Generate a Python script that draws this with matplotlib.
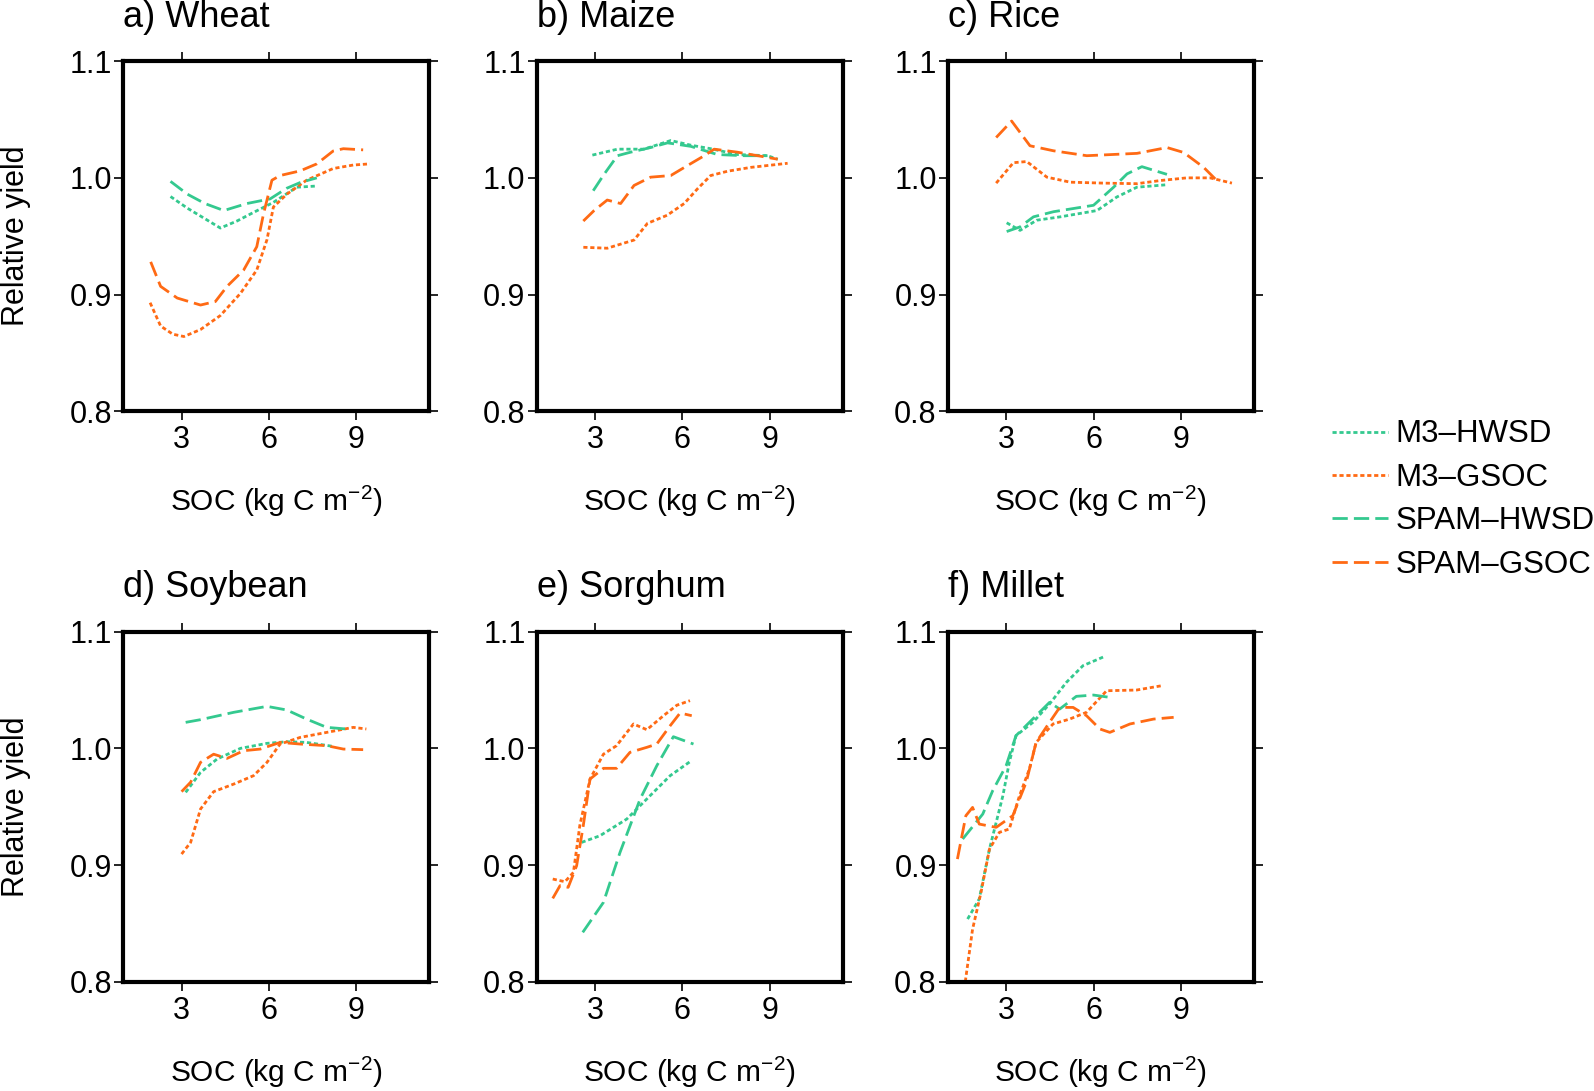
import matplotlib
matplotlib.use("Agg")
import matplotlib.pyplot as plt

plt.rcParams['font.family'] = ['Liberation Sans', 'DejaVu Sans']
plt.rcParams['mathtext.fontset'] = 'custom'
plt.rcParams['mathtext.rm'] = 'Liberation Sans'
plt.rcParams['mathtext.it'] = 'Liberation Sans:italic'

GREEN = '#34c98f'
ORANGE = '#ff6a14'

series_names = ['M3\u2013HWSD', 'M3\u2013GSOC', 'SPAM\u2013HWSD', 'SPAM\u2013GSOC']
panel_titles = ['a) Wheat', 'b) Maize', 'c) Rice', 'd) Soybean', 'e) Sorghum', 'f) Millet']
xticks = [3, 6, 9]
yticks = [0.8, 0.9, 1.0, 1.1]
ytick_labels = ['0.8', '0.9', '1.0', '1.1']

# ---- a) Wheat ----
wheat_m3_hwsd_x = [2.62, 3.2, 3.8, 4.33, 4.9, 5.36, 6.15, 6.95, 7.64]
wheat_m3_hwsd_y = [0.984, 0.974, 0.965, 0.957, 0.963, 0.969, 0.979, 0.992, 0.993]
wheat_m3_gsoc_x = [1.92, 2.28, 2.7, 3.08, 3.65, 4.33, 5.02, 5.58, 5.93, 6.15, 6.61, 7.29, 8.2, 8.89, 9.46]
wheat_m3_gsoc_y = [0.893, 0.873, 0.866, 0.864, 0.870, 0.882, 0.901, 0.921, 0.947, 0.975, 0.986, 0.998, 1.008, 1.011, 1.012]
wheat_spam_hwsd_x = [2.62, 3.2, 3.8, 4.45, 5.24, 6.04, 6.6, 7.07, 7.64]
wheat_spam_hwsd_y = [0.997, 0.986, 0.978, 0.972, 0.978, 0.982, 0.991, 0.996, 1.000]
wheat_spam_gsoc_x = [1.94, 2.28, 2.85, 3.65, 4.16, 4.56, 5.13, 5.58, 5.81, 6.1, 6.38, 7.07, 7.64, 8.2, 8.55, 9.23]
wheat_spam_gsoc_y = [0.928, 0.907, 0.897, 0.891, 0.894, 0.907, 0.921, 0.941, 0.969, 0.998, 1.002, 1.006, 1.012, 1.023, 1.025, 1.024]

# ---- b) Maize ----
maize_m3_hwsd_x = [2.91, 3.77, 4.68, 5.6, 6.29, 6.97, 7.89, 8.92, 9.27]
maize_m3_hwsd_y = [1.0195, 1.0246, 1.0246, 1.032, 1.028, 1.025, 1.020, 1.019, 1.016]
maize_m3_gsoc_x = [2.6, 3.42, 4.34, 4.8, 5.48, 6.06, 6.52, 6.97, 7.55, 8.35, 9.61]
maize_m3_gsoc_y = [0.9405, 0.9397, 0.9467, 0.961, 0.968, 0.978, 0.9907, 1.002, 1.0057, 1.009, 1.0125]
maize_spam_hwsd_x = [2.94, 3.31, 3.77, 4.22, 4.91, 5.49, 6.29, 7.2, 8.12, 8.92]
maize_spam_hwsd_y = [0.989, 1.003, 1.019, 1.022, 1.026, 1.030, 1.027, 1.020, 1.019, 1.019]
maize_spam_gsoc_x = [2.6, 2.97, 3.42, 3.88, 4.34, 4.91, 5.6, 6.17, 6.75, 7.09, 7.89, 8.58, 9.27]
maize_spam_gsoc_y = [0.963, 0.972, 0.981, 0.978, 0.9935, 1.0006, 1.002, 1.0105, 1.019, 1.0246, 1.022, 1.019, 1.016]

# ---- c) Rice ----
rice_m3_hwsd_x = [3.02, 3.48, 4.05, 4.86, 6.12, 6.8, 7.49, 8.46]
rice_m3_hwsd_y = [0.9615, 0.955, 0.9637, 0.9666, 0.972, 0.9836, 0.992, 0.994]
rice_m3_gsoc_x = [2.66, 3.25, 3.71, 4.4, 5.2, 6.34, 7.49, 8.29, 9.2, 10.0, 10.75]
rice_m3_gsoc_y = [0.9955, 1.013, 1.014, 1.0006, 0.9963, 0.9955, 0.995, 0.9977, 1.0, 1.0, 0.9955]
rice_spam_hwsd_x = [3.02, 3.48, 3.94, 4.63, 6.0, 6.69, 7.15, 7.66, 8.52]
rice_spam_hwsd_y = [0.954, 0.958, 0.9666, 0.971, 0.9765, 0.992, 1.0034, 1.0096, 1.003]
rice_spam_gsoc_x = [2.66, 3.19, 3.82, 4.63, 5.77, 7.49, 8.52, 9.09, 9.78, 10.18]
rice_spam_gsoc_y = [1.0346, 1.0487, 1.0275, 1.0232, 1.019, 1.021, 1.026, 1.0218, 1.009, 0.999]

# ---- d) Soybean ----
soy_m3_hwsd_x = [3.14, 3.65, 4.22, 5.02, 5.93, 6.61, 7.29, 8.2]
soy_m3_hwsd_y = [0.9623, 0.9794, 0.9909, 1.0, 1.0043, 1.0057, 1.0051, 1.0017]
soy_m3_gsoc_x = [3.0, 3.31, 3.65, 4.1, 4.79, 5.47, 5.93, 6.38, 7.07, 7.98, 8.89, 9.34]
soy_m3_gsoc_y = [0.9094, 0.9194, 0.948, 0.9629, 0.9694, 0.9766, 0.988, 1.0037, 1.0094, 1.0137, 1.018, 1.0166]
soy_spam_hwsd_x = [3.14, 3.65, 4.79, 5.93, 6.61, 7.29, 7.98, 8.66]
soy_spam_hwsd_y = [1.0223, 1.0246, 1.0309, 1.036, 1.0329, 1.0251, 1.018, 1.0166]
soy_spam_gsoc_x = [3.0, 3.31, 3.65, 4.1, 4.56, 5.13, 5.7, 6.38, 7.07, 7.98, 8.55, 9.23]
soy_spam_gsoc_y = [0.9629, 0.971, 0.988, 0.995, 0.9914, 0.998, 0.9994, 1.0051, 1.0037, 1.0023, 0.9994, 0.9989]

# ---- e) Sorghum ----
sorg_m3_hwsd_x = [2.54, 3.17, 4.09, 4.89, 5.58, 6.26]
sorg_m3_hwsd_y = [0.9194, 0.9251, 0.9394, 0.9594, 0.9766, 0.9886]
sorg_m3_gsoc_x = [1.55, 1.97, 2.26, 2.48, 2.83, 3.29, 3.74, 4.32, 4.78, 5.35, 5.81, 6.26]
sorg_m3_gsoc_y = [0.888, 0.8857, 0.8937, 0.934, 0.9737, 0.995, 1.0023, 1.0209, 1.016, 1.028, 1.037, 1.0409]
sorg_spam_hwsd_x = [2.58, 3.29, 3.86, 4.55, 5.12, 5.69, 6.38]
sorg_spam_hwsd_y = [0.8423, 0.868, 0.9109, 0.9566, 0.9851, 1.01, 1.0037]
sorg_spam_gsoc_x = [1.55, 1.8, 2.08, 2.37, 2.6, 2.83, 3.29, 3.74, 4.2, 4.78, 5.12, 5.58, 5.92, 6.32]
sorg_spam_gsoc_y = [0.8714, 0.8823, 0.8809, 0.8994, 0.934, 0.9737, 0.9829, 0.9829, 0.9966, 1.0009, 1.0037, 1.0194, 1.0303, 1.028]

# ---- f) Millet ----
mil_m3_hwsd_x = [1.68, 2.08, 2.43, 2.89, 3.11, 3.34, 3.92, 4.49, 5.07, 5.64, 6.39]
mil_m3_hwsd_y = [0.8537, 0.871, 0.9137, 0.9594, 0.988, 1.0109, 1.0223, 1.038, 1.0566, 1.0709, 1.0789]
mil_m3_gsoc_x = [1.6, 1.85, 2.14, 2.43, 2.77, 3.11, 3.46, 3.8, 4.03, 4.61, 5.18, 5.76, 6.45, 7.48, 8.34]
mil_m3_gsoc_y = [0.80, 0.845, 0.8766, 0.9137, 0.928, 0.9309, 0.9594, 0.9823, 1.0051, 1.0209, 1.0251, 1.0309, 1.0494, 1.05, 1.0537]
mil_spam_hwsd_x = [1.51, 2.2, 2.54, 3.0, 3.34, 3.8, 4.49, 4.84, 5.41, 6.0, 6.56]
mil_spam_hwsd_y = [0.9223, 0.9437, 0.9637, 0.9851, 1.0109, 1.0223, 1.0394, 1.0337, 1.0446, 1.0457, 1.0437]
mil_spam_gsoc_x = [1.33, 1.62, 1.85, 2.08, 2.66, 3.23, 3.69, 4.03, 4.49, 4.84, 5.3, 5.76, 6.22, 6.56, 7.25, 8.06, 8.75]
mil_spam_gsoc_y = [0.9051, 0.9423, 0.9494, 0.9351, 0.9323, 0.9423, 0.9709, 1.0051, 1.0223, 1.0351, 1.0351, 1.028, 1.0166, 1.0137, 1.0209, 1.0251, 1.0266]

panels = [
    [(wheat_m3_hwsd_x, wheat_m3_hwsd_y), (wheat_m3_gsoc_x, wheat_m3_gsoc_y),
     (wheat_spam_hwsd_x, wheat_spam_hwsd_y), (wheat_spam_gsoc_x, wheat_spam_gsoc_y)],
    [(maize_m3_hwsd_x, maize_m3_hwsd_y), (maize_m3_gsoc_x, maize_m3_gsoc_y),
     (maize_spam_hwsd_x, maize_spam_hwsd_y), (maize_spam_gsoc_x, maize_spam_gsoc_y)],
    [(rice_m3_hwsd_x, rice_m3_hwsd_y), (rice_m3_gsoc_x, rice_m3_gsoc_y),
     (rice_spam_hwsd_x, rice_spam_hwsd_y), (rice_spam_gsoc_x, rice_spam_gsoc_y)],
    [(soy_m3_hwsd_x, soy_m3_hwsd_y), (soy_m3_gsoc_x, soy_m3_gsoc_y),
     (soy_spam_hwsd_x, soy_spam_hwsd_y), (soy_spam_gsoc_x, soy_spam_gsoc_y)],
    [(sorg_m3_hwsd_x, sorg_m3_hwsd_y), (sorg_m3_gsoc_x, sorg_m3_gsoc_y),
     (sorg_spam_hwsd_x, sorg_spam_hwsd_y), (sorg_spam_gsoc_x, sorg_spam_gsoc_y)],
    [(mil_m3_hwsd_x, mil_m3_hwsd_y), (mil_m3_gsoc_x, mil_m3_gsoc_y),
     (mil_spam_hwsd_x, mil_spam_hwsd_y), (mil_spam_gsoc_x, mil_spam_gsoc_y)],
]

colors = [GREEN, ORANGE, GREEN, ORANGE]
DOT = (0, (1.5, 1.0))
DASH = (0, (5.5, 2.2))
styles = [DOT, DOT, DASH, DASH]
LW = 2.0

W, H = 1594, 1091
fig = plt.figure(figsize=(W / 100, H / 100), dpi=100)

lefts = [123.3, 536.7, 947.8]
tops = [61.2, 631.7]
aw, ah = 306.0, 350.0

handles = []
for i in range(6):
    r, c = divmod(i, 3)
    ax = fig.add_axes([lefts[c] / W, 1 - (tops[r] + ah) / H, aw / W, ah / H])
    for k, (xs, ys) in enumerate(panels[i]):
        ln, = ax.plot(xs, ys, color=colors[k], linestyle=styles[k], lw=LW,
                      dash_capstyle='butt', label=series_names[k])
        if i == 0:
            handles.append(ln)
    ax.set_xlim(1.0, 11.5)
    ax.set_ylim(0.8, 1.1)
    ax.set_xticks(xticks)
    ax.set_xticklabels([str(t) for t in xticks])
    ax.set_yticks(yticks)
    ax.set_yticklabels(ytick_labels)
    for s in ax.spines.values():
        s.set_linewidth(3.0)
    ax.tick_params(axis='both', which='major', direction='out', length=6.5, width=1.2,
                   labelsize=22, top=True, right=True)
    ax.tick_params(axis='x', pad=3.5)
    ax.tick_params(axis='y', pad=1.5)
    ax.set_xlabel('SOC (kg C m$^{-2}$)', fontsize=21.5, labelpad=21)
    if c == 0:
        ax.set_ylabel('Relative yield', fontsize=22, labelpad=27.5)
    ax.annotate(panel_titles[i], xy=(0, 1), xycoords='axes fraction',
                xytext=(0, 24.8), textcoords='offset points',
                ha='left', va='baseline', fontsize=26)

fig.legend(handles=handles, labels=series_names, loc='upper left',
           bbox_to_anchor=(1332 / W, 1 - 419.5 / H), frameon=False,
           fontsize=22.5, handlelength=1.8, handletextpad=0.23,
           labelspacing=0.43, borderpad=0, borderaxespad=0)

fig.savefig('out.png', dpi=100)
